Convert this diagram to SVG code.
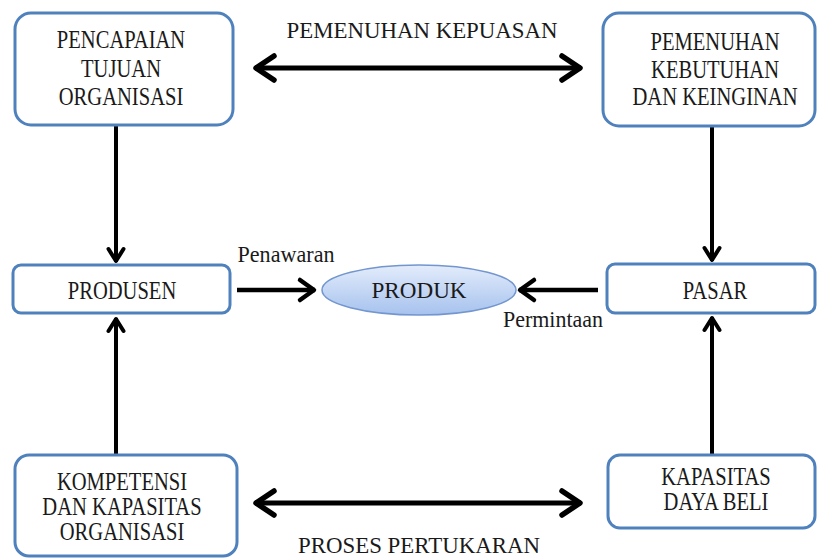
<svg xmlns="http://www.w3.org/2000/svg" width="817" height="559" viewBox="0 0 817 559">
  <defs>
    <style>
      .box { fill: #ffffff; stroke: #4f81bd; stroke-width: 3; }
      .t { font-family: "Liberation Serif", "Times New Roman", serif; font-size: 24.5px; fill: #1a1a1a; text-anchor: middle; }
      .lbl { font-family: "Liberation Serif", "Times New Roman", serif; font-size: 24px; fill: #1a1a1a; text-anchor: middle; }
      .big { stroke: #000; stroke-width: 5; fill: none; }
      .mid { stroke: #000; stroke-width: 4.5; fill: none; }
      .thin { stroke: #000; stroke-width: 4; fill: none; }
    </style>
    <linearGradient id="ellFill" x1="0" y1="0" x2="0" y2="1">
      <stop offset="0" stop-color="#e3ecfb"/>
      <stop offset="1" stop-color="#a6c2ee"/>
    </linearGradient>
    <marker id="headBig" markerUnits="userSpaceOnUse" viewBox="-24 -16 30 32" markerWidth="30" markerHeight="32" refX="0" refY="0" orient="auto-start-reverse">
      <path d="M-19,-12 L-1,0 L-19,12" fill="none" stroke="#000" stroke-width="5.5" stroke-linecap="round" stroke-linejoin="round"/>
    </marker>
    <marker id="headMid" markerUnits="userSpaceOnUse" viewBox="-20 -14 26 28" markerWidth="26" markerHeight="28" refX="0" refY="0" orient="auto">
      <path d="M-15,-10 L-1,0 L-15,10" fill="none" stroke="#000" stroke-width="4.5" stroke-linecap="round" stroke-linejoin="round"/>
    </marker>
    <marker id="headSmall" markerUnits="userSpaceOnUse" viewBox="-16 -10 20 20" markerWidth="20" markerHeight="20" refX="0" refY="0" orient="auto">
      <path d="M-13,-7.5 L-1,0 L-13,7.5" fill="none" stroke="#000" stroke-width="4" stroke-linecap="round" stroke-linejoin="round"/>
    </marker>
  </defs>

  <rect width="817" height="559" fill="#ffffff"/>

  <g id="connectors">
    <line class="big" x1="255" y1="68" x2="581" y2="68" marker-start="url(#headBig)" marker-end="url(#headBig)"/>
    <line class="big" x1="255" y1="503" x2="581" y2="503" marker-start="url(#headBig)" marker-end="url(#headBig)"/>
    <line class="thin" x1="116" y1="126" x2="116" y2="262" marker-end="url(#headSmall)"/>
    <line class="thin" x1="712" y1="127" x2="712" y2="261" marker-end="url(#headSmall)"/>
    <line class="thin" x1="116" y1="454" x2="116" y2="318" marker-end="url(#headSmall)"/>
    <line class="thin" x1="712" y1="454" x2="712" y2="317" marker-end="url(#headSmall)"/>
    <line class="mid" x1="237" y1="290" x2="315" y2="290" marker-end="url(#headMid)"/>
    <line class="mid" x1="598" y1="290" x2="519" y2="290" marker-end="url(#headMid)"/>
    <text class="lbl" x="422" y="38" textLength="271" lengthAdjust="spacingAndGlyphs">PEMENUHAN KEPUASAN</text>
    <text class="lbl" x="419" y="553" textLength="242" lengthAdjust="spacingAndGlyphs">PROSES PERTUKARAN</text>
    <text class="lbl" x="286" y="262" textLength="97" lengthAdjust="spacingAndGlyphs">Penawaran</text>
    <text class="lbl" x="553" y="327" textLength="100" lengthAdjust="spacingAndGlyphs">Permintaan</text>
  </g>

  <g id="pencapaian">
    <rect class="box" x="15" y="13" width="218" height="112" rx="16"/>
    <g transform="translate(121,0) scale(0.84,1)">
      <text class="t" x="0" y="48">PENCAPAIAN</text>
      <text class="t" x="0" y="77">TUJUAN</text>
      <text class="t" x="0" y="105">ORGANISASI</text>
    </g>
  </g>

  <g id="pemenuhan">
    <rect class="box" x="603" y="13" width="212" height="113" rx="16"/>
    <g transform="translate(715,0) scale(0.84,1)">
      <text class="t" x="0" y="50">PEMENUHAN</text>
      <text class="t" x="0" y="78">KEBUTUHAN</text>
      <text class="t" x="0" y="105">DAN KEINGINAN</text>
    </g>
  </g>

  <g id="produsen">
    <rect class="box" x="13" y="265" width="217" height="48" rx="8"/>
    <g transform="translate(122,0) scale(0.84,1)">
      <text class="t" x="0" y="299">PRODUSEN</text>
    </g>
  </g>

  <g id="produk">
    <ellipse cx="419" cy="290" rx="97" ry="25" fill="url(#ellFill)" stroke="#7396cf" stroke-width="1.5"/>
    <text class="lbl" x="419" y="298" textLength="95" lengthAdjust="spacingAndGlyphs">PRODUK</text>
  </g>

  <g id="pasar">
    <rect class="box" x="607" y="264" width="208" height="49" rx="8"/>
    <g transform="translate(715,0) scale(0.84,1)">
      <text class="t" x="0" y="299">PASAR</text>
    </g>
  </g>

  <g id="kompetensi">
    <rect class="box" x="15" y="455" width="222" height="101" rx="14"/>
    <g transform="translate(122,0) scale(0.84,1)">
      <text class="t" x="0" y="490">KOMPETENSI</text>
      <text class="t" x="0" y="515">DAN KAPASITAS</text>
      <text class="t" x="0" y="540">ORGANISASI</text>
    </g>
  </g>

  <g id="kapasitas">
    <rect class="box" x="608" y="455" width="207" height="73" rx="12"/>
    <g transform="translate(716,0) scale(0.84,1)">
      <text class="t" x="0" y="485">KAPASITAS</text>
      <text class="t" x="0" y="510">DAYA BELI</text>
    </g>
  </g>
</svg>
